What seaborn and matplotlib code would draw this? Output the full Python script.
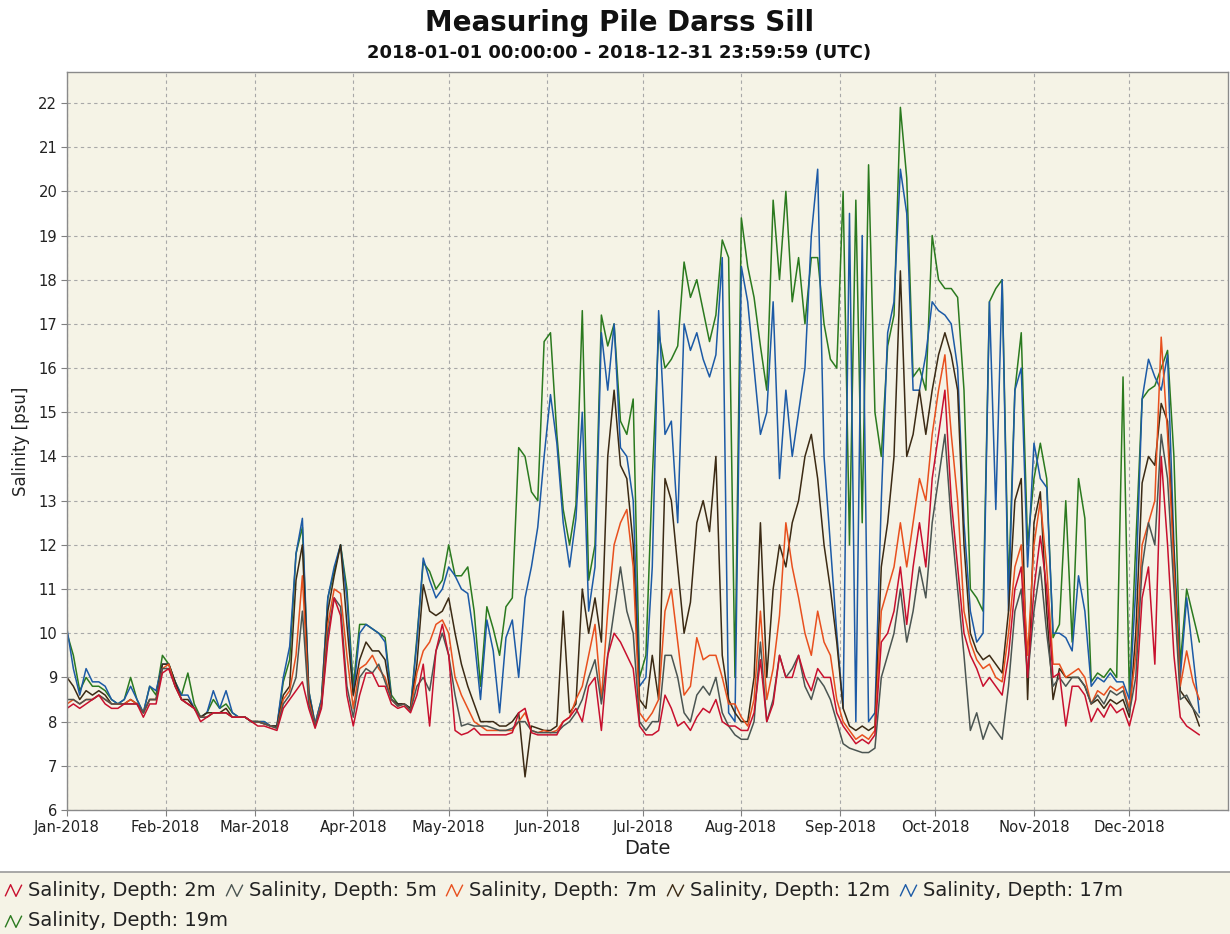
import matplotlib
matplotlib.use("Agg")
import matplotlib.pyplot as plt
import matplotlib.dates as mdates
from matplotlib.lines import Line2D
from matplotlib.path import Path
from matplotlib.patches import Rectangle
import pandas as pd
import seaborn as sns

# --- sampling dates (every second day) ---------------------------------
dates = pd.date_range("2018-01-01", periods=179, freq="2D")

# --- salinity [psu] per sensor depth ------------------------------------
sal_2m = [
    8.3, 8.4, 8.3, 8.4, 8.5, 8.6, 8.4, 8.3, 8.3, 8.4, 8.4, 8.4, 8.1, 8.4, 8.4, 9.1,
    9.2, 8.8, 8.5, 8.4, 8.3, 8.0, 8.1, 8.2, 8.2, 8.2, 8.1, 8.1, 8.1, 8.0,
    7.9, 7.9, 7.85, 7.8, 8.3, 8.5, 8.7, 8.9, 8.3, 7.85, 8.3, 9.8, 10.8, 10.4, 8.6,
    7.9, 8.6, 9.1, 9.1, 8.8, 8.8, 8.4, 8.3, 8.35, 8.2, 8.6, 9.3, 7.9, 9.6, 10.2,
    9.5, 7.8, 7.7, 7.75, 7.85, 7.7, 7.7, 7.7, 7.7, 7.7, 7.75, 8.2, 8.3, 7.75, 7.7, 7.7,
    7.7, 7.7, 8.0, 8.1, 8.3, 8.0, 8.8, 9.0, 7.8, 9.5, 10.0, 9.8, 9.5, 9.2, 7.9,
    7.7, 7.7, 7.8, 8.6, 8.3, 7.9, 8.0, 7.8, 8.1, 8.3, 8.2, 8.5, 8.0, 7.9, 7.9, 7.8,
    7.8, 8.2, 9.4, 8.0, 8.4, 9.5, 9.0, 9.0, 9.5, 9.0, 8.7, 9.2, 9.0, 9.0, 8.2,
    7.9, 7.7, 7.5, 7.6, 7.5, 7.7, 9.8, 10.0, 10.5, 11.5, 10.2, 11.5, 12.5, 11.5, 13.5,
    14.5, 15.5, 13.0, 11.5, 10.0, 9.5, 9.2, 8.8, 9.0, 8.8, 8.6, 9.5, 11.0, 11.5, 9.0,
    11.0, 12.2, 11.0, 9.0, 9.1, 7.9, 8.8, 8.8, 8.6, 8.0, 8.3, 8.1, 8.4, 8.2, 8.3,
    7.9, 8.5, 10.8, 11.5, 9.3, 14.0, 12.0, 9.5, 8.1, 7.9, 7.8, 7.7,
]
sal_5m = [
    8.5, 8.5, 8.4, 8.5, 8.5, 8.6, 8.5, 8.4, 8.4, 8.4, 8.4, 8.4, 8.2, 8.5, 8.5, 9.2,
    9.2, 8.8, 8.5, 8.4, 8.3, 8.1, 8.1, 8.2, 8.2, 8.2, 8.1, 8.1, 8.1, 8.0,
    8.0, 7.95, 7.9, 7.85, 8.4, 8.6, 9.0, 10.5, 8.4, 7.9, 8.35, 10.0, 10.8, 10.6, 8.8,
    8.1, 9.0, 9.2, 9.1, 9.3, 8.9, 8.5, 8.35, 8.4, 8.25, 8.8, 9.0, 8.7, 9.6, 10.0,
    9.5, 8.6, 7.9, 7.95, 7.9, 7.9, 7.9, 7.85, 7.8, 7.8, 7.85, 8.0, 8.0, 7.8, 7.75, 7.75,
    7.75, 7.75, 7.9, 8.0, 8.2, 8.5, 9.0, 9.4, 8.4, 9.5, 10.5, 11.5, 10.5, 10.0, 8.0,
    7.8, 8.0, 8.0, 9.5, 9.5, 9.0, 8.2, 8.0, 8.6, 8.8, 8.6, 9.0, 8.2, 7.9, 7.7, 7.6,
    7.6, 8.0, 9.8, 8.0, 8.5, 9.5, 9.0, 9.2, 9.5, 8.8, 8.5, 9.0, 8.8, 8.5, 8.0,
    7.5, 7.4, 7.35, 7.3, 7.3, 7.4, 9.0, 9.5, 10.0, 11.0, 9.8, 10.5, 11.5, 10.8, 12.5,
    13.5, 14.5, 12.5, 11.0, 9.5, 7.8, 8.2, 7.6, 8.0, 7.8, 7.6, 8.8, 10.5, 11.0, 9.0,
    10.5, 11.5, 10.0, 8.8, 9.0, 8.8, 9.0, 9.0, 8.8, 8.4, 8.6, 8.4, 8.7, 8.6, 8.7,
    8.2, 9.0, 11.5, 12.5, 12.0, 14.5, 13.5, 11.0, 8.5, 8.6, 8.3, 8.1,
]
sal_7m = [
    8.4, 8.5, 8.4, 8.5, 8.5, 8.6, 8.5, 8.4, 8.4, 8.4, 8.5, 8.4, 8.2, 8.5, 8.5, 9.2,
    9.3, 8.8, 8.5, 8.4, 8.3, 8.1, 8.1, 8.2, 8.2, 8.2, 8.1, 8.1, 8.1, 8.0,
    8.0, 7.95, 7.9, 7.85, 8.5, 8.7, 9.5, 11.3, 8.5, 7.9, 8.4, 10.2, 11.0, 10.9, 9.5,
    8.3, 9.2, 9.3, 9.5, 9.2, 9.0, 8.5, 8.35, 8.4, 8.25, 9.1, 9.6, 9.8, 10.2, 10.3,
    10.0, 9.0, 8.6, 8.3, 8.0, 7.9, 7.8, 7.8, 7.8, 7.8, 7.8, 8.0, 8.2, 7.8, 7.75, 7.8,
    7.75, 7.8, 8.0, 8.1, 8.5, 8.8, 9.5, 10.2, 8.5, 10.5, 12.0, 12.5, 12.8, 11.5, 8.2,
    8.0, 8.2, 8.5, 10.5, 11.0, 9.8, 8.6, 8.8, 9.9, 9.4, 9.5, 9.5, 9.0, 8.4, 8.4, 8.1,
    7.9, 8.5, 10.5, 8.5, 9.2, 10.4, 12.5, 11.5, 10.8, 10.0, 9.5, 10.5, 9.8, 9.5, 8.5,
    8.0, 7.8, 7.6, 7.7, 7.6, 7.8, 10.5, 11.0, 11.5, 12.5, 11.5, 12.5, 13.5, 13.0, 14.5,
    15.5, 16.3, 14.5, 13.0, 10.5, 9.8, 9.4, 9.2, 9.3, 9.0, 8.9, 10.0, 11.5, 12.0, 9.5,
    12.0, 13.0, 11.5, 9.3, 9.3, 9.0, 9.1, 9.2, 9.0, 8.4, 8.7, 8.6, 8.8, 8.7, 8.8,
    8.3, 9.5, 12.0, 12.5, 13.0, 16.7, 14.5, 11.5, 8.8, 9.6, 8.9, 8.5,
]
sal_12m = [
    9.0, 8.8, 8.5, 8.7, 8.6, 8.7, 8.6, 8.4, 8.4, 8.4, 8.5, 8.4, 8.2, 8.5, 8.5, 9.3,
    9.3, 8.9, 8.5, 8.5, 8.3, 8.1, 8.2, 8.2, 8.2, 8.3, 8.1, 8.1, 8.1, 8.0,
    8.0, 7.95, 7.9, 7.9, 8.6, 8.8, 11.2, 12.0, 8.6, 7.9, 8.4, 10.5, 11.3, 12.0, 10.2,
    8.6, 9.4, 9.8, 9.6, 9.6, 9.4, 8.5, 8.4, 8.4, 8.3, 9.3, 11.1, 10.5, 10.4, 10.5,
    10.8, 10.0, 9.3, 8.8, 8.4, 8.0, 8.0, 8.0, 7.9, 7.9, 8.0, 8.2, 6.75, 7.9, 7.85, 7.8,
    7.8, 7.9, 10.5, 8.2, 8.4, 11.0, 10.0, 10.8, 9.8, 14.0, 15.5, 13.8, 13.5, 12.0, 8.5,
    8.3, 9.5, 8.5, 13.5, 13.0, 11.5, 10.0, 10.7, 12.5, 13.0, 12.3, 14.0, 9.5, 8.5, 8.2, 8.0,
    8.0, 9.0, 12.5, 9.0, 11.0, 12.0, 11.5, 12.5, 13.0, 14.0, 14.5, 13.5, 12.0, 11.0, 9.8,
    8.3, 7.9, 7.8, 7.9, 7.8, 7.9, 11.5, 12.5, 14.0, 18.2, 14.0, 14.5, 15.5, 14.5, 15.5,
    16.3, 16.8, 16.3, 15.5, 12.0, 10.0, 9.6, 9.4, 9.5, 9.3, 9.1, 10.5, 13.0, 13.5, 8.5,
    12.5, 13.2, 10.5, 8.5, 9.2, 9.0, 9.0, 9.0, 8.8, 8.4, 8.5, 8.3, 8.5, 8.4, 8.5,
    8.1, 10.0, 13.4, 14.0, 13.8, 15.2, 14.8, 11.8, 8.7, 8.5, 8.3, 7.9,
]
sal_17m = [
    10.1, 9.2, 8.6, 9.2, 8.9, 8.9, 8.8, 8.5, 8.4, 8.5, 8.8, 8.5, 8.2, 8.8, 8.7, 9.3,
    9.3, 8.9, 8.6, 8.6, 8.3, 8.1, 8.2, 8.7, 8.3, 8.7, 8.2, 8.1, 8.1, 8.0,
    8.0, 8.0, 7.9, 7.9, 9.0, 9.7, 11.8, 12.6, 8.7, 7.95, 8.5, 10.8, 11.5, 12.0, 10.8,
    8.6, 10.0, 10.2, 10.1, 10.0, 9.8, 8.5, 8.4, 8.4, 8.3, 9.8, 11.7, 11.2, 10.8, 11.0,
    11.5, 11.3, 11.0, 10.9, 9.9, 8.5, 10.3, 9.6, 8.2, 9.9, 10.3, 9.0, 10.8, 11.5, 12.4, 14.0,
    15.4, 14.3, 12.5, 11.5, 12.6, 15.0, 10.5, 11.5, 16.8, 15.5, 17.0, 14.2, 14.0, 13.0, 8.8,
    9.0, 11.5, 17.3, 14.5, 14.8, 12.5, 17.0, 16.4, 16.8, 16.2, 15.8, 16.3, 18.5, 8.2, 8.0, 18.3,
    17.5, 16.0, 14.5, 15.0, 17.5, 13.5, 15.5, 14.0, 15.0, 16.0, 19.0, 20.5, 14.0, 12.0, 10.0,
    8.3, 19.5, 8.0, 19.0, 8.0, 8.2, 13.0, 16.8, 17.5, 20.5, 19.5, 15.5, 15.5, 16.3, 17.5,
    17.3, 17.2, 17.0, 16.0, 12.5, 10.5, 9.8, 10.0, 17.5, 12.8, 18.0, 10.5, 15.5, 16.0, 11.5,
    14.3, 13.5, 13.3, 10.0, 10.0, 9.9, 9.6, 11.3, 10.5, 8.8, 9.0, 8.9, 9.1, 8.9, 8.9,
    8.5, 11.0, 15.3, 16.2, 15.8, 15.5, 16.3, 12.0, 9.0, 10.8, 9.5, 8.2,
]
sal_19m = [
    10.0, 9.5, 8.7, 9.0, 8.8, 8.8, 8.7, 8.5, 8.4, 8.5, 9.0, 8.5, 8.2, 8.8, 8.6, 9.5,
    9.3, 8.9, 8.6, 9.1, 8.4, 8.1, 8.2, 8.5, 8.3, 8.4, 8.2, 8.1, 8.1, 8.0,
    8.0, 8.0, 7.9, 7.9, 8.9, 9.4, 11.8, 12.4, 8.7, 7.95, 8.5, 10.8, 11.4, 12.0, 11.0,
    8.8, 10.2, 10.2, 10.1, 10.0, 9.9, 8.6, 8.4, 8.4, 8.3, 9.9, 11.6, 11.4, 11.0, 11.2,
    12.0, 11.3, 11.3, 11.5, 10.5, 8.8, 10.6, 10.1, 9.5, 10.6, 10.8, 14.2, 14.0, 13.2, 13.0, 16.6,
    16.8, 14.5, 12.8, 12.0, 12.9, 17.3, 11.2, 12.0, 17.2, 16.5, 17.0, 14.8, 14.5, 15.3, 9.0,
    9.5, 13.5, 16.8, 16.0, 16.2, 16.5, 18.4, 17.6, 18.0, 17.3, 16.6, 17.2, 18.9, 18.5, 9.0, 19.4,
    18.3, 17.6, 16.5, 15.5, 19.8, 18.0, 20.0, 17.5, 18.5, 17.0, 18.5, 18.5, 17.0, 16.2, 16.0,
    20.0, 12.0, 19.8, 12.5, 20.6, 15.0, 14.0, 16.5, 17.2, 21.9, 20.3, 15.8, 16.0, 15.5, 19.0,
    18.0, 17.8, 17.8, 17.6, 15.5, 11.0, 10.8, 10.5, 17.5, 17.8, 18.0, 11.0, 15.5, 16.8, 12.0,
    13.5, 14.3, 13.5, 9.9, 10.2, 13.0, 9.8, 13.5, 12.6, 8.9, 9.1, 9.0, 9.2, 9.0, 15.8,
    8.6, 12.0, 15.3, 15.5, 15.6, 16.0, 16.4, 14.0, 9.3, 11.0, 10.4, 9.8,
]

labels = [
    "Salinity, Depth: 2m",
    "Salinity, Depth: 5m",
    "Salinity, Depth: 7m",
    "Salinity, Depth: 12m",
    "Salinity, Depth: 17m",
    "Salinity, Depth: 19m",
]
values = [sal_2m, sal_5m, sal_7m, sal_12m, sal_17m, sal_19m]
colors = ["#c8102e", "#4b5552", "#e8501e", "#3b2a14", "#1c5aa6", "#2b7a1f"]
month_ticks = pd.date_range("2018-01-01", periods=12, freq="MS")

for v in values:
    assert len(v) == len(dates)

frames = [pd.DataFrame({"Date": dates, "Salinity": v, "Series": lab})
          for lab, v in zip(labels, values)]
df = pd.concat(frames, ignore_index=True)

sns.set_theme(style="ticks")
plt.rcParams["font.family"] = ["DejaVu Sans"]

W, H = 1230, 934
fig = plt.figure(figsize=(W / 100, H / 100), dpi=100)
fig.patch.set_facecolor("white")

cream = "#f5f3e6"
ax = fig.add_axes([67 / W, 1 - 810 / H, (1228 - 67) / W, (810 - 72) / H])
ax.set_facecolor(cream)

# shallow sensors drawn last so they sit on top
draw_order = labels[::-1]
palette = dict(zip(labels, colors))
sns.lineplot(data=df, x="Date", y="Salinity", hue="Series", hue_order=draw_order,
             palette=palette, estimator=None, sort=False, legend=False,
             linewidth=1.1, ax=ax)

ax.set_xlim(pd.Timestamp("2018-01-01"), pd.Timestamp("2019-01-01"))
ax.set_ylim(6, 22.7)
ax.set_yticks(range(6, 23))
ax.set_xticks(month_ticks)
ax.xaxis.set_major_formatter(mdates.DateFormatter("%b-%Y"))
ax.tick_params(axis="both", labelsize=10.6, length=4, width=0.8, color="#808080",
               labelcolor="#222222", pad=3)
ax.grid(True, color="#a8a8a8", linestyle=(0, (3, 3)), linewidth=0.8)
for side in ["left", "bottom", "top", "right"]:
    ax.spines[side].set_color("#8a8a8a")
    ax.spines[side].set_linewidth(1.0)
ax.set_xlabel("Date", fontsize=14, labelpad=3, color="#222222")
ax.set_ylabel("Salinity [psu]", fontsize=12, labelpad=6, color="#222222")

fig.text(0.504, 1 - 23 / H, "Measuring Pile Darss Sill", ha="center", va="center",
         fontsize=20, fontweight="bold", color="#111111")
fig.text(0.503, 1 - 53 / H, "2018-01-01 00:00:00 - 2018-12-31 23:59:59 (UTC)",
         ha="center", va="center", fontsize=13, fontweight="bold", color="#111111")

# legend band at the bottom
band_top = 1 - 872 / H
fig.patches.append(Rectangle((0, 0), 1, band_top, transform=fig.transFigure,
                             facecolor=cream, edgecolor="none", zorder=0))
fig.lines.append(Line2D([0, 1], [band_top, band_top], transform=fig.transFigure,
                        color="#9a9a9a", linewidth=1.2))

zigzag = Path([(-1.0, -0.7), (-0.35, 0.7), (0.3, -0.7), (1.0, 0.7)],
              [Path.MOVETO, Path.LINETO, Path.LINETO, Path.LINETO])

fig.canvas.draw()
renderer = fig.canvas.get_renderer()
rows_y = [890, 921]
x_px = 4
row = 0
for k, (lab, col) in enumerate(zip(labels, colors)):
    if k == 5:
        row = 1
        x_px = 4
    y_fig = 1 - rows_y[row] / H
    fig.lines.append(Line2D([(x_px + 9) / W], [y_fig], transform=fig.transFigure,
                            marker=zigzag, markersize=12, linestyle="none",
                            markeredgecolor=col, markerfacecolor="none",
                            markeredgewidth=1.0))
    t = fig.text((x_px + 24) / W, y_fig, lab, ha="left", va="center",
                 fontsize=14, color="#222222")
    w = t.get_window_extent(renderer).width
    x_px = x_px + 24 + w + 9

fig.savefig("out.png", dpi=100, facecolor=fig.get_facecolor())
